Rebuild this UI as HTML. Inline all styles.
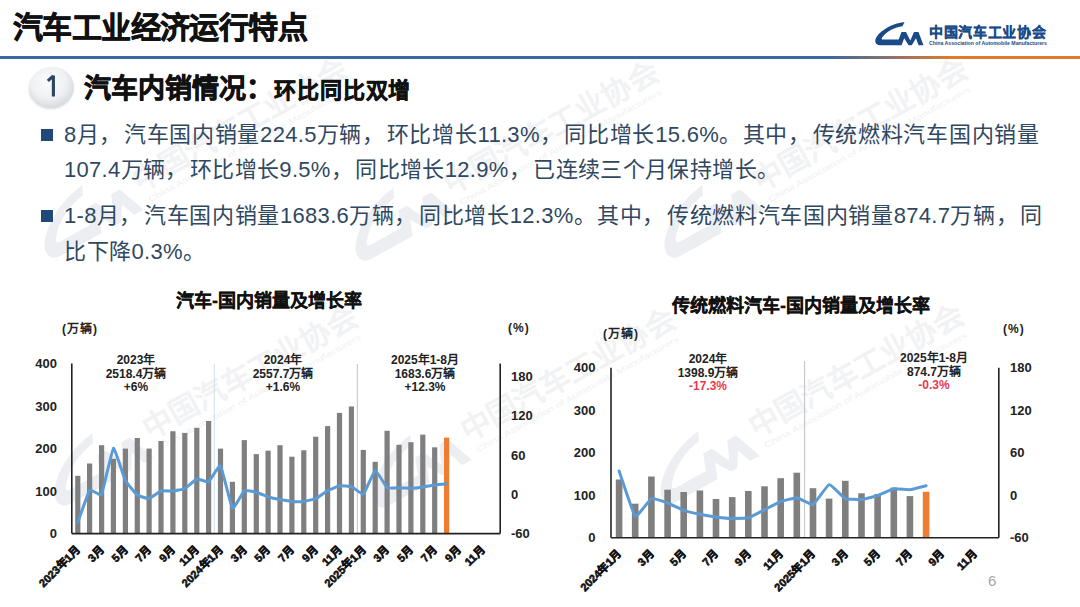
<!DOCTYPE html>
<html lang="zh-CN"><head><meta charset="utf-8">
<style>
html,body{margin:0;padding:0;}
body{width:1080px;height:607px;position:relative;overflow:hidden;background:#fff;font-family:"Liberation Sans", sans-serif;}
.abs{position:absolute;white-space:nowrap;}
#title{left:13px;top:9px;font-size:30px;letter-spacing:-0.6px;font-weight:bold;color:#111;line-height:38px;-webkit-text-stroke:0.7px #111;}
#hline{left:0;top:56px;width:1080px;height:3px;background:linear-gradient(to right,#3b6aa0 0%,#3b6aa0 77%,#e07a30 88%,#e07a30 100%);}
#sub1{left:84px;top:71px;font-size:27px;font-weight:bold;color:#111;line-height:36px;-webkit-text-stroke:0.7px #111;}
#sub2{left:274px;top:75.5px;letter-spacing:0.9px;font-size:22px;font-weight:bold;color:#111;line-height:30px;-webkit-text-stroke:0.5px #111;}
.bul{position:absolute;width:12px;height:12px;background:#1f4a78;}
.tx{position:absolute;white-space:nowrap;font-size:22px;letter-spacing:0.5px;color:#30485f;line-height:30px;}
.tx .n{font-size:22px;letter-spacing:0.3px;}
.tx .p{letter-spacing:2.5px;}
.tx .q{letter-spacing:1.5px;}
.ctitle{position:absolute;white-space:nowrap;font-size:18px;font-weight:bold;color:#111;line-height:22px;-webkit-text-stroke:0.25px #111;}
.unit{position:absolute;white-space:nowrap;font-size:12px;font-weight:bold;color:#222;line-height:14px;letter-spacing:1px;}
.ann{position:absolute;white-space:nowrap;font-size:12px;font-weight:bold;color:#222;line-height:13.5px;text-align:center;}
.red{color:#e8384f;}
svg text{font-family:"Liberation Sans", sans-serif;}
.ax{font-size:13px;font-weight:bold;fill:#222;}
.xl{font-size:11px;font-weight:bold;fill:#111;stroke:#111;stroke-width:0.6px;}
#pnum{left:988px;top:572px;font-size:15px;color:#a6a6a6;}
</style></head><body>
<svg class="abs" style="left:0;top:0" width="1080" height="607" viewBox="0 0 1080 607">
<defs>
<g id="wm2">
<g transform="translate(-112,-34) scale(2.2) translate(-875,-22)" fill="#eceef2">
<path d="M904.5,22 C893,23.5 882,29 876.5,37 C874,41 875.5,45.3 880,45.3 L897,45.3 L899.2,39.6 L883.5,39.6 C881.5,39.6 881.2,38.6 882.3,37.2 C887,31 895,27.3 902.5,26.2 Z"/>
<path d="M896.5,45.3 L901.5,32 L906,32 L910.3,40.5 L914,32 L918.5,32 L923.5,45.3 L918.5,45.3 L916,38.3 L911.8,45.3 L908.6,45.3 L904.2,38.3 L901.6,45.3 Z"/>
</g>
<text x="0" y="0" style="font-size:30px;font-weight:bold" fill="#f1f2f4">中国汽车工业协会</text>
<text x="4" y="14" style="font-size:8px" fill="#f0f1f3" textLength="230" lengthAdjust="spacingAndGlyphs">China Association of Automobile Manufacturers</text>
</g>
</defs>
<use href="#wm2" transform="translate(140,192) rotate(-29)"/>
<use href="#wm2" transform="translate(451,195) rotate(-29)"/>
<use href="#wm2" transform="translate(760,192) rotate(-29)"/>
<use href="#wm2" transform="translate(150,440) rotate(-29)"/>
<use href="#wm2" transform="translate(468,442) rotate(-29)"/>
<use href="#wm2" transform="translate(756,438) rotate(-29)"/>
</svg>
<div id="title" class="abs">汽车工业经济运行特点</div>
<div id="hline" class="abs"></div>
<!-- logo -->
<svg class="abs" style="left:0;top:0" width="1080" height="607" viewBox="0 0 1080 607">
<g fill="#1a4a88">
<path d="M904.5,22 C893,23.5 882,29 876.5,37 C874,41 875.5,45.3 880,45.3 L897,45.3 L899.2,39.6 L883.5,39.6 C881.5,39.6 881.2,38.6 882.3,37.2 C887,31 895,27.3 902.5,26.2 Z"/>
<path d="M896.5,45.3 L901.5,32 L906,32 L910.3,40.5 L914,32 L918.5,32 L923.5,45.3 L918.5,45.3 L916,38.3 L911.8,45.3 L908.6,45.3 L904.2,38.3 L901.6,45.3 Z"/>
</g>
<text x="929" y="36.8" style="font-size:14px;font-weight:bold;letter-spacing:0.65px" fill="#1a4a88" stroke="#1a4a88" stroke-width="0.25">中国汽车工业协会</text>
<text x="929" y="45.3" style="font-size:5.6px;font-weight:bold" fill="#1a4a88" textLength="118" lengthAdjust="spacingAndGlyphs">China Association of Automobile Manufacturers</text>
</svg>
<svg class="abs" style="left:20px;top:58px" width="64" height="60" viewBox="20 58 64 60">
<defs>
<radialGradient id="cg" cx="0.42" cy="0.38" r="0.62"><stop offset="0" stop-color="#fbfcfd"/><stop offset="0.65" stop-color="#eef0f2"/><stop offset="1" stop-color="#d9dce0"/></radialGradient>
<filter id="cs" x="-30%" y="-30%" width="160%" height="160%"><feGaussianBlur stdDeviation="1.3"/></filter>
</defs>
<ellipse cx="51" cy="89" rx="22" ry="20" fill="#b8bcc2" opacity="0.55" filter="url(#cs)"/>
<ellipse cx="52" cy="87" rx="22" ry="20.3" fill="url(#cg)"/>
<path d="M53.4,75.5 L53.4,96.5 M53.4,75.8 L47.8,80.8" stroke="#2b4662" stroke-width="3.1" fill="none" stroke-linecap="butt" stroke-linejoin="miter"/>
</svg>
<div id="sub1" class="abs">汽车内销情况：</div>
<div id="sub2" class="abs">环比同比双增</div>

<div class="bul" style="left:41px;top:129px"></div>
<div class="tx" id="l1" style="left:64px;top:120px;letter-spacing:0.72px"><span class="n">8</span>月<span class="p">，</span>汽车国内销量<span class="n">224.5</span>万辆<span class="p">，</span>环比增长<span class="n">11.3%</span><span class="p">，</span>同比增长<span class="n">15.6%</span><span class="q">。</span>其中<span class="p">，</span>传统燃料汽车国内销量</div>
<div class="tx" id="l2" style="left:64px;top:155px;letter-spacing:0.38px"><span class="n">107.4</span>万辆<span class="p">，</span>环比增长<span class="n">9.5%</span><span class="p">，</span>同比增长<span class="n">12.9%</span><span class="p">，</span>已连续三个月保持增长<span class="q">。</span></div>
<div class="bul" style="left:41px;top:210px"></div>
<div class="tx" id="l3" style="left:64px;top:201px;letter-spacing:0.68px"><span class="n">1-8</span>月<span class="p">，</span>汽车国内销量<span class="n">1683.6</span>万辆<span class="p">，</span>同比增长<span class="n">12.3%</span><span class="q">。</span>其中<span class="p">，</span>传统燃料汽车国内销量<span class="n">874.7</span>万辆<span class="p">，</span>同</div>
<div class="tx" id="l4" style="left:64px;top:237px">比下降<span class="n">0.3%</span><span class="q">。</span></div>

<div class="ctitle" id="ct1" style="left:176px;top:290px">汽车-国内销量及增长率</div>
<div class="ctitle" id="ct2" style="left:672px;top:295px">传统燃料汽车-国内销量及增长率</div>
<div class="unit" style="left:62px;top:322px">(万辆)</div>
<div class="unit" style="left:508px;top:321px">(%)</div>
<div class="unit" style="left:603px;top:327px">(万辆)</div>
<div class="unit" style="left:1003px;top:322px">(%)</div>

<div class="ann" style="left:86px;top:354px;width:100px">2023年<br>2518.4万辆<br>+6%</div>
<div class="ann" style="left:233px;top:354px;width:100px">2024年<br>2557.7万辆<br>+1.6%</div>
<div class="ann" style="left:375px;top:354px;width:100px">2025年1-8月<br>1683.6万辆<br>+12.3%</div>
<div class="ann" style="left:658px;top:353px;width:100px">2024年<br>1398.9万辆<br><span class="red">-17.3%</span></div>
<div class="ann" style="left:884px;top:352px;width:100px">2025年1-8月<br>874.7万辆<br><span class="red">-0.3%</span></div>

<svg class="abs" style="left:0;top:0" width="1080" height="607" viewBox="0 0 1080 607">
<rect x="75.2" y="475.8" width="5.2" height="57.8" fill="#7f7f7f"/>
<rect x="87" y="463.5" width="5.2" height="70.1" fill="#7f7f7f"/>
<rect x="99" y="445.2" width="5.2" height="88.4" fill="#7f7f7f"/>
<rect x="110.8" y="458.8" width="5.2" height="74.8" fill="#7f7f7f"/>
<rect x="122.8" y="448.6" width="5.2" height="85" fill="#7f7f7f"/>
<rect x="134.7" y="438" width="5.2" height="95.6" fill="#7f7f7f"/>
<rect x="146.5" y="448.6" width="5.2" height="85" fill="#7f7f7f"/>
<rect x="158.4" y="441" width="5.2" height="92.6" fill="#7f7f7f"/>
<rect x="170.3" y="431.2" width="5.2" height="102.4" fill="#7f7f7f"/>
<rect x="182.2" y="432.9" width="5.2" height="100.7" fill="#7f7f7f"/>
<rect x="194.2" y="427.8" width="5.2" height="105.8" fill="#7f7f7f"/>
<rect x="206" y="421" width="5.2" height="112.6" fill="#7f7f7f"/>
<rect x="217.9" y="448.6" width="5.2" height="85" fill="#7f7f7f"/>
<rect x="229.8" y="481.8" width="5.2" height="51.9" fill="#7f7f7f"/>
<rect x="241.7" y="440.1" width="5.2" height="93.5" fill="#7f7f7f"/>
<rect x="253.7" y="454.1" width="5.2" height="79.5" fill="#7f7f7f"/>
<rect x="265.5" y="450.7" width="5.2" height="82.9" fill="#7f7f7f"/>
<rect x="277.4" y="445.2" width="5.2" height="88.4" fill="#7f7f7f"/>
<rect x="289.3" y="456.7" width="5.2" height="76.9" fill="#7f7f7f"/>
<rect x="301.2" y="450.3" width="5.2" height="83.3" fill="#7f7f7f"/>
<rect x="313.1" y="436.7" width="5.2" height="96.9" fill="#7f7f7f"/>
<rect x="325" y="426.1" width="5.2" height="107.5" fill="#7f7f7f"/>
<rect x="336.9" y="412.9" width="5.2" height="120.7" fill="#7f7f7f"/>
<rect x="348.8" y="406.5" width="5.2" height="127.1" fill="#7f7f7f"/>
<rect x="360.7" y="449.9" width="5.2" height="83.7" fill="#7f7f7f"/>
<rect x="372.6" y="461.8" width="5.2" height="71.8" fill="#7f7f7f"/>
<rect x="384.5" y="430.8" width="5.2" height="102.8" fill="#7f7f7f"/>
<rect x="396.4" y="444.8" width="5.2" height="88.8" fill="#7f7f7f"/>
<rect x="408.3" y="442.2" width="5.2" height="91.4" fill="#7f7f7f"/>
<rect x="420.2" y="434.6" width="5.2" height="99" fill="#7f7f7f"/>
<rect x="432.1" y="447.3" width="5.2" height="86.3" fill="#7f7f7f"/>
<rect x="444" y="437.6" width="5.2" height="96" fill="#ed7d31"/>
<line x1="214.3" y1="364" x2="214.3" y2="533.6" stroke="#d3dce6" stroke-width="1"/>
<line x1="357.3" y1="364" x2="357.3" y2="533.6" stroke="#c0c0c0" stroke-width="1"/>
<path d="M77.8,522.5 C78.3,520.9 88.5,491.6 89.6,490.2 C90.8,488.8 100.4,496.5 101.5,494.4 C102.7,492.3 112.3,448.9 113.4,448.2 C114.6,447.5 124.2,478.1 125.3,480.4 C126.5,482.7 136.1,494.1 137.2,495 C138.4,495.9 148,498.8 149.1,498.6 C150.3,498.4 159.9,491.4 161,491 C162.2,490.6 171.8,491.1 172.9,491 C174.1,490.9 183.7,489.4 184.8,488.8 C186,488.2 195.6,479.4 196.8,479 C197.9,478.6 207.5,482.5 208.6,481.8 C209.8,481.1 219.4,464.4 220.5,465.7 C221.7,467 231.3,507.2 232.4,508.4 C233.6,509.6 243.2,491.4 244.3,490.6 C245.5,489.8 255.1,491.9 256.2,492.2 C257.4,492.5 267,496.4 268.1,496.8 C269.3,497.2 278.9,499.4 280,499.6 C281.2,499.8 290.8,501.3 291.9,501.4 C293.1,501.5 302.7,501.5 303.8,501.4 C305,501.3 314.6,499.1 315.7,498.6 C316.9,498.1 326.5,491.2 327.6,490.6 C328.8,490 338.4,486 339.5,485.8 C340.7,485.6 350.3,486.1 351.4,486.5 C352.6,486.9 362.2,495 363.3,494.2 C364.5,493.4 374.1,470.7 375.2,470.4 C376.4,470.1 386,486.8 387.1,487.7 C388.3,488.6 397.9,487.7 399,487.7 C400.2,487.7 409.8,488.2 410.9,488.2 C412.1,488.2 421.7,487.2 422.8,487 C424,486.8 433.6,485.2 434.7,485 C435.9,484.8 446.1,483.9 446.6,483.8" fill="none" stroke="#5b9bd5" stroke-width="3" stroke-linejoin="round" stroke-linecap="round"/>
<line x1="71.8" y1="363.6" x2="71.8" y2="533.6" stroke="#222" stroke-width="1.6"/>
<line x1="500.2" y1="363.6" x2="500.2" y2="533.6" stroke="#222" stroke-width="1.6"/>
<line x1="71.8" y1="533.6" x2="500.2" y2="533.6" stroke="#222" stroke-width="1.6"/>
<text x="57" y="533.6" text-anchor="end" dominant-baseline="central" class="ax">0</text>
<text x="57" y="491.1" text-anchor="end" dominant-baseline="central" class="ax">100</text>
<text x="57" y="448.6" text-anchor="end" dominant-baseline="central" class="ax">200</text>
<text x="57" y="406.1" text-anchor="end" dominant-baseline="central" class="ax">300</text>
<text x="57" y="363.6" text-anchor="end" dominant-baseline="central" class="ax">400</text>
<text x="511" y="533.6" text-anchor="start" dominant-baseline="central" class="ax">-60</text>
<text x="511" y="494.4" text-anchor="start" dominant-baseline="central" class="ax">0</text>
<text x="511" y="455.1" text-anchor="start" dominant-baseline="central" class="ax">60</text>
<text x="511" y="415.9" text-anchor="start" dominant-baseline="central" class="ax">120</text>
<text x="511" y="376.7" text-anchor="start" dominant-baseline="central" class="ax">180</text>
<text transform="translate(80.8,550.6) rotate(-45)" text-anchor="end" class="xl">2023年1月</text>
<text transform="translate(104.5,550.6) rotate(-45)" text-anchor="end" class="xl">3月</text>
<text transform="translate(128.3,550.6) rotate(-45)" text-anchor="end" class="xl">5月</text>
<text transform="translate(152.1,550.6) rotate(-45)" text-anchor="end" class="xl">7月</text>
<text transform="translate(175.9,550.6) rotate(-45)" text-anchor="end" class="xl">9月</text>
<text transform="translate(199.8,550.6) rotate(-45)" text-anchor="end" class="xl">11月</text>
<text transform="translate(223.5,550.6) rotate(-45)" text-anchor="end" class="xl">2024年1月</text>
<text transform="translate(247.3,550.6) rotate(-45)" text-anchor="end" class="xl">3月</text>
<text transform="translate(271.1,550.6) rotate(-45)" text-anchor="end" class="xl">5月</text>
<text transform="translate(294.9,550.6) rotate(-45)" text-anchor="end" class="xl">7月</text>
<text transform="translate(318.7,550.6) rotate(-45)" text-anchor="end" class="xl">9月</text>
<text transform="translate(342.5,550.6) rotate(-45)" text-anchor="end" class="xl">11月</text>
<text transform="translate(366.3,550.6) rotate(-45)" text-anchor="end" class="xl">2025年1月</text>
<text transform="translate(390.1,550.6) rotate(-45)" text-anchor="end" class="xl">3月</text>
<text transform="translate(413.9,550.6) rotate(-45)" text-anchor="end" class="xl">5月</text>
<text transform="translate(437.7,550.6) rotate(-45)" text-anchor="end" class="xl">7月</text>
<text transform="translate(461.5,550.6) rotate(-45)" text-anchor="end" class="xl">9月</text>
<text transform="translate(485.3,550.6) rotate(-45)" text-anchor="end" class="xl">11月</text>
<rect x="615.8" y="479.5" width="6.6" height="58.2" fill="#7f7f7f"/>
<rect x="631.9" y="503.7" width="6.6" height="34" fill="#7f7f7f"/>
<rect x="648.1" y="476.5" width="6.6" height="61.2" fill="#7f7f7f"/>
<rect x="664.3" y="489.7" width="6.6" height="48" fill="#7f7f7f"/>
<rect x="680.4" y="492" width="6.6" height="45.7" fill="#7f7f7f"/>
<rect x="696.6" y="490.5" width="6.6" height="47.2" fill="#7f7f7f"/>
<rect x="712.7" y="499" width="6.6" height="38.7" fill="#7f7f7f"/>
<rect x="728.9" y="497.1" width="6.6" height="40.6" fill="#7f7f7f"/>
<rect x="745" y="491" width="6.6" height="46.8" fill="#7f7f7f"/>
<rect x="761.2" y="486.3" width="6.6" height="51.4" fill="#7f7f7f"/>
<rect x="777.4" y="478.2" width="6.6" height="59.5" fill="#7f7f7f"/>
<rect x="793.5" y="472.7" width="6.6" height="65" fill="#7f7f7f"/>
<rect x="809.7" y="488.2" width="6.6" height="49.5" fill="#7f7f7f"/>
<rect x="825.8" y="498.6" width="6.6" height="39.1" fill="#7f7f7f"/>
<rect x="842" y="480.8" width="6.6" height="57" fill="#7f7f7f"/>
<rect x="858.2" y="493.3" width="6.6" height="44.4" fill="#7f7f7f"/>
<rect x="874.3" y="494.1" width="6.6" height="43.6" fill="#7f7f7f"/>
<rect x="890.5" y="487.6" width="6.6" height="50.2" fill="#7f7f7f"/>
<rect x="906.6" y="496.1" width="6.6" height="41.7" fill="#7f7f7f"/>
<rect x="922.8" y="491.8" width="6.6" height="45.9" fill="#ed7d31"/>
<line x1="804.6" y1="361" x2="804.6" y2="537.7" stroke="#c0c0c0" stroke-width="1"/>
<path d="M619.1,471 C619.9,473.3 633.6,514.9 635.2,516.3 C636.9,517.7 649.8,499.2 651.4,498.5 C653,497.8 665.9,502.4 667.6,503 C669.2,503.6 682.1,509.8 683.7,510.4 C685.3,511 698.3,513.9 699.9,514.2 C701.5,514.5 714.4,516.7 716,516.9 C717.6,517.1 730.6,518.4 732.2,518.4 C733.8,518.4 746.7,518.2 748.3,517.8 C750,517.4 762.9,510.6 764.5,509.8 C766.1,509 779,502.1 780.7,501.5 C782.3,500.9 795.2,497.6 796.8,497.7 C798.4,497.8 811.4,505.2 813,504.5 C814.6,503.8 827.5,484.9 829.1,484.6 C830.8,484.3 843.7,497.9 845.3,498.6 C846.9,499.3 859.8,499.6 861.5,499.5 C863.1,499.4 876,496.1 877.6,495.6 C879.2,495.1 892.2,489.1 893.8,488.8 C895.4,488.5 908.3,489.8 909.9,489.7 C911.5,489.6 925.3,486 926.1,485.8" fill="none" stroke="#5b9bd5" stroke-width="3" stroke-linejoin="round" stroke-linecap="round"/>
<line x1="611" y1="367.7" x2="611" y2="537.7" stroke="#222" stroke-width="1.6"/>
<line x1="998.8" y1="367.7" x2="998.8" y2="537.7" stroke="#222" stroke-width="1.6"/>
<line x1="611" y1="537.7" x2="998.8" y2="537.7" stroke="#222" stroke-width="1.6"/>
<text x="595.5" y="537.7" text-anchor="end" dominant-baseline="central" class="ax">0</text>
<text x="595.5" y="495.2" text-anchor="end" dominant-baseline="central" class="ax">100</text>
<text x="595.5" y="452.7" text-anchor="end" dominant-baseline="central" class="ax">200</text>
<text x="595.5" y="410.2" text-anchor="end" dominant-baseline="central" class="ax">300</text>
<text x="595.5" y="367.7" text-anchor="end" dominant-baseline="central" class="ax">400</text>
<text x="1010" y="537.7" text-anchor="start" dominant-baseline="central" class="ax">-60</text>
<text x="1010" y="495.2" text-anchor="start" dominant-baseline="central" class="ax">0</text>
<text x="1010" y="452.7" text-anchor="start" dominant-baseline="central" class="ax">60</text>
<text x="1010" y="410.2" text-anchor="start" dominant-baseline="central" class="ax">120</text>
<text x="1010" y="367.7" text-anchor="start" dominant-baseline="central" class="ax">180</text>
<text transform="translate(622.1,554.7) rotate(-45)" text-anchor="end" class="xl">2024年1月</text>
<text transform="translate(654.4,554.7) rotate(-45)" text-anchor="end" class="xl">3月</text>
<text transform="translate(686.7,554.7) rotate(-45)" text-anchor="end" class="xl">5月</text>
<text transform="translate(719,554.7) rotate(-45)" text-anchor="end" class="xl">7月</text>
<text transform="translate(751.3,554.7) rotate(-45)" text-anchor="end" class="xl">9月</text>
<text transform="translate(783.7,554.7) rotate(-45)" text-anchor="end" class="xl">11月</text>
<text transform="translate(816,554.7) rotate(-45)" text-anchor="end" class="xl">2025年1月</text>
<text transform="translate(848.3,554.7) rotate(-45)" text-anchor="end" class="xl">3月</text>
<text transform="translate(880.6,554.7) rotate(-45)" text-anchor="end" class="xl">5月</text>
<text transform="translate(912.9,554.7) rotate(-45)" text-anchor="end" class="xl">7月</text>
<text transform="translate(945.2,554.7) rotate(-45)" text-anchor="end" class="xl">9月</text>
<text transform="translate(977.6,554.7) rotate(-45)" text-anchor="end" class="xl">11月</text>
</svg>
<div id="pnum" class="abs">6</div>
</body></html>
